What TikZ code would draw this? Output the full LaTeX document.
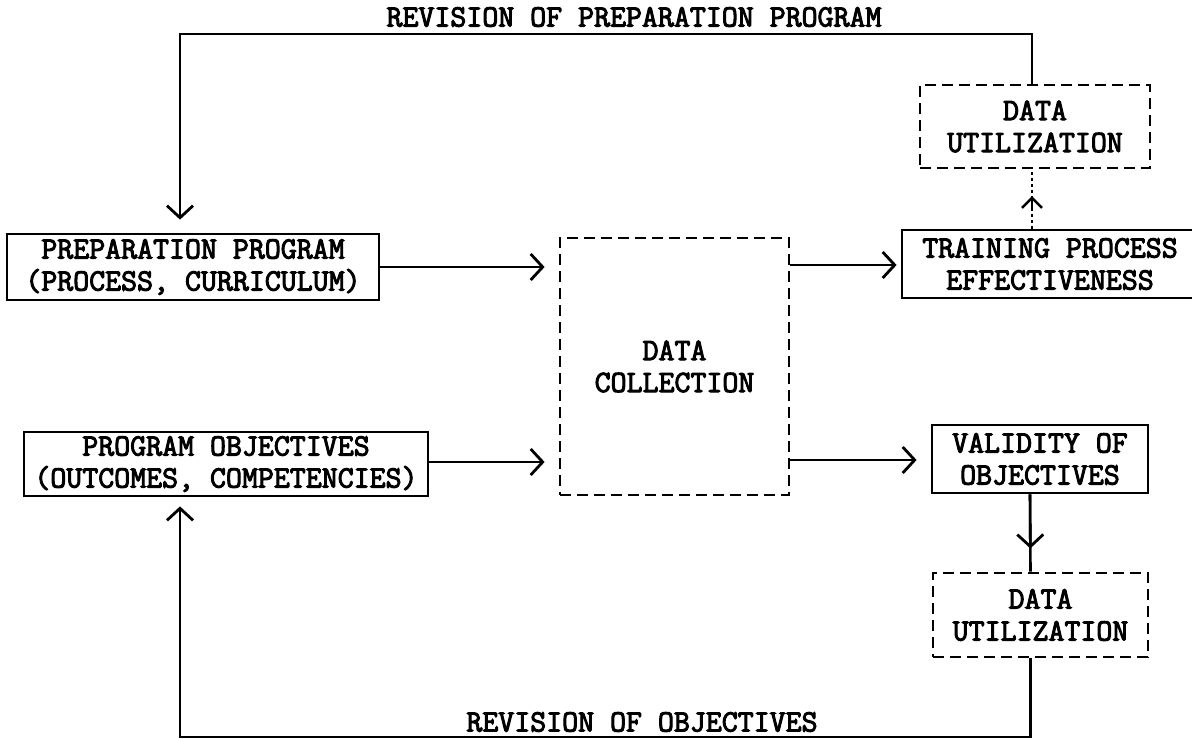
\documentclass[tikz,border=0pt]{standalone}
\usepackage{fontspec}
\newfontfamily\typewriter[FakeBold=3.2]{Latin Modern Mono}
\usetikzlibrary{arrows.meta,calc}
\begin{document}
\begin{tikzpicture}[x=1pt,y=-1pt,
  lbl/.style={font=\typewriter\fontsize{31}{32}\selectfont},
  solidbox/.style={draw, line width=2.8pt, align=center, inner sep=0pt, lbl},
  dashbox/.style={solidbox, dash pattern=on 11pt off 6pt},
  conn/.style={line width=2.6pt},
  dotconn/.style={line width=1.5pt, dash pattern=on 3pt off 3pt},
  tipend/.style={-{Straight Barb[length=12pt,width=26pt,line width=2.8pt]}}
]
\useasboundingbox (0,0) rectangle (1192,739);
\fill[white] (0,0) rectangle (1192,739);
\clip (0,0) rectangle (1192,739);

% nodes
\node[solidbox, minimum width=372pt, minimum height=66pt] (prep) at (193,267)
  {PREPARATION PROGRAM\\(PROCESS, CURRICULUM)};
\node[solidbox, minimum width=404pt, minimum height=64pt] (obj) at (226,464)
  {PROGRAM OBJECTIVES\\(OUTCOMES, COMPETENCIES)};
\node[dashbox, minimum width=229pt, minimum height=257pt] (coll) at (674.5,366.5)
  {DATA\\COLLECTION};
\node[solidbox, minimum width=306pt, minimum height=68pt] (train) at (1055,264)
  {\hspace*{-10pt}TRAINING PROCESS\\\hspace*{-10pt}EFFECTIVENESS};
\node[dashbox, minimum width=230pt, minimum height=83pt] (util1) at (1035,126.5)
  {DATA\\UTILIZATION};
\node[solidbox, minimum width=216pt, minimum height=68pt] (valid) at (1040,459)
  {VALIDITY OF\\OBJECTIVES};
\node[dashbox, minimum width=215pt, minimum height=84pt] (util2) at (1040.5,615)
  {DATA\\UTILIZATION};

% labels
\node[lbl] (revprep) at (634,17) {REVISION OF PREPARATION PROGRAM};
\node[lbl] (revobj) at (642,722) {REVISION OF OBJECTIVES};

% coordinates for connector paths
\coordinate (topy) at (0,34);
\coordinate (boty) at (0,737);

% horizontal arrows into / out of data collection
\draw[conn, tipend, shorten >=14pt] (prep.east |- 0,267) -- (coll.west |- 0,267);
\draw[conn, tipend, shorten >=14pt] (obj.east |- 0,462) -- (coll.west |- 0,462);
\draw[conn, tipend, shorten >=4pt] (coll.east |- 0,265) -- (train.west |- 0,265);
\draw[conn, tipend, shorten >=14pt] (coll.east |- 0,460) -- (valid.west |- 0,460);

% revision of preparation program loop
\draw[conn, tipend, shorten >=13pt]
  ([xshift=-3pt]util1.north) |- ([xshift=-13pt]prep.north |- topy) -- ([xshift=-13pt]prep.north);

% data utilization (top) from training
\coordinate (m1) at ($([xshift=-3pt]util1.south)!0.45!([xshift=-3pt]util1.south |- train.north)$);
\draw[dotconn] ([xshift=-3pt]util1.south |- train.north) -- ([xshift=-3pt]util1.south);
\draw[conn, -{Straight Barb[length=10pt,width=20pt,line width=2.6pt]}] ([xshift=-3pt]util1.south |- train.north) ++(0,-20) -- (m1);

% validity to data utilization (bottom)
\coordinate (m2) at ($([xshift=-10pt]valid.south)!0.7!([xshift=-10pt]util2.north)$);
\draw[conn] ([xshift=-10pt]valid.south) -- ([xshift=-10pt]util2.north);
\draw[conn, tipend] ([xshift=-10pt]valid.south) -- (m2);

% revision of objectives loop
\draw[conn, tipend, shorten >=9pt]
  ([xshift=-10pt]util2.south) |- ([xshift=-46pt]obj.south |- boty) -- ([xshift=-46pt]obj.south);
\end{tikzpicture}
\end{document}
